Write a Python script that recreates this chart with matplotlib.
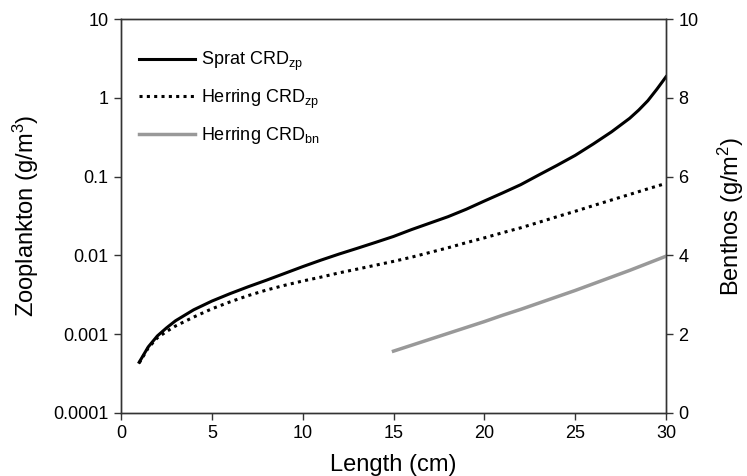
import matplotlib
matplotlib.use("Agg")
import matplotlib.pyplot as plt

# data
length = [1, 1.5, 2, 2.5, 3, 4, 5, 6, 7, 8, 9, 10, 11, 12, 13, 14, 15, 16, 17, 18,
          19, 20, 21, 22, 23, 24, 25, 26, 27, 28, 28.5, 29, 29.5, 30]
sprat_zp = [0.00044, 0.00069, 0.00095, 0.0012, 0.00148, 0.00204, 0.00263, 0.00327,
            0.0040, 0.00484, 0.0059, 0.0072, 0.0087, 0.0104, 0.0123, 0.0146, 0.0174,
            0.0213, 0.0257, 0.031, 0.0385, 0.049, 0.062, 0.079, 0.105, 0.139, 0.186,
            0.26, 0.37, 0.55, 0.70, 0.92, 1.29, 1.85]
herring_zp = [0.00043, 0.00067, 0.00090, 0.00108, 0.00127, 0.00165, 0.0021, 0.00257,
              0.00309, 0.00363, 0.00417, 0.00473, 0.0053, 0.0060, 0.0067, 0.0075,
              0.0084, 0.0095, 0.0109, 0.0125, 0.0145, 0.0167, 0.0194, 0.0224, 0.0263,
              0.031, 0.0363, 0.0429, 0.0505, 0.0594, 0.0645, 0.070, 0.0758, 0.082]

length_bn = [15, 16, 17, 18, 19, 20, 21, 22, 23, 24, 25, 26, 27, 28, 29, 30]
herring_bn = [1.57, 1.72, 1.87, 2.02, 2.17, 2.32, 2.48, 2.63, 2.79, 2.95, 3.11,
              3.28, 3.45, 3.62, 3.80, 3.98]

x_ticks = [0, 5, 10, 15, 20, 25, 30]
left_ticks = [0.0001, 0.001, 0.01, 0.1, 1, 10]
left_labels = ["0.0001", "0.001", "0.01", "0.1", "1", "10"]
right_ticks = [0, 2, 4, 6, 8, 10]

plt.rcParams["font.family"] = ["Liberation Sans", "DejaVu Sans"]
plt.rcParams["mathtext.fontset"] = "custom"
plt.rcParams["mathtext.rm"] = "Liberation Sans"
plt.rcParams["mathtext.it"] = "Liberation Sans"

fig = plt.figure(figsize=(7.47, 4.76), dpi=100)
ax = fig.add_axes([0.162, 0.1324, 0.7296, 0.8276])
ax2 = ax.twinx()

l1, = ax.plot(length, sprat_zp, color="black", lw=2.2, label=r"Sprat CRD$_\mathrm{zp}$")
l2, = ax.plot(length, herring_zp, color="black", lw=2.2, linestyle=(0, (1, 1.4)),
              label=r"Herring CRD$_\mathrm{zp}$")
l3, = ax2.plot(length_bn, herring_bn, color="#999999", lw=2.5,
               label=r"Herring CRD$_\mathrm{bn}$")

ax.set_yscale("log")
ax.set_xlim(0, 30)
ax.set_ylim(0.0001, 10)
ax.set_xticks(x_ticks)
ax.set_yticks(left_ticks)
ax.set_yticklabels(left_labels)
ax.minorticks_off()
ax2.set_ylim(0, 10)
ax2.set_yticks(right_ticks)

for a in (ax, ax2):
    a.tick_params(direction="out", length=5, width=1, labelsize=13, color="#333333", pad=4)
    for s in a.spines.values():
        s.set_color("#333333")
        s.set_linewidth(1)

ax.set_xlabel("Length (cm)", fontsize=17, labelpad=8)
ax.set_ylabel(r"Zooplankton (g/m$^3$)", fontsize=17, labelpad=9)
ax2.set_ylabel(r"Benthos (g/m$^2$)", fontsize=17, labelpad=12, rotation=90)

ax.legend(handles=[l1, l2, l3], loc="upper left", bbox_to_anchor=(0.02, 0.94),
          frameon=False, fontsize=13, handlelength=3.1, handletextpad=0.35,
          labelspacing=0.8, borderaxespad=0)

fig.savefig("out.png", dpi=100)
